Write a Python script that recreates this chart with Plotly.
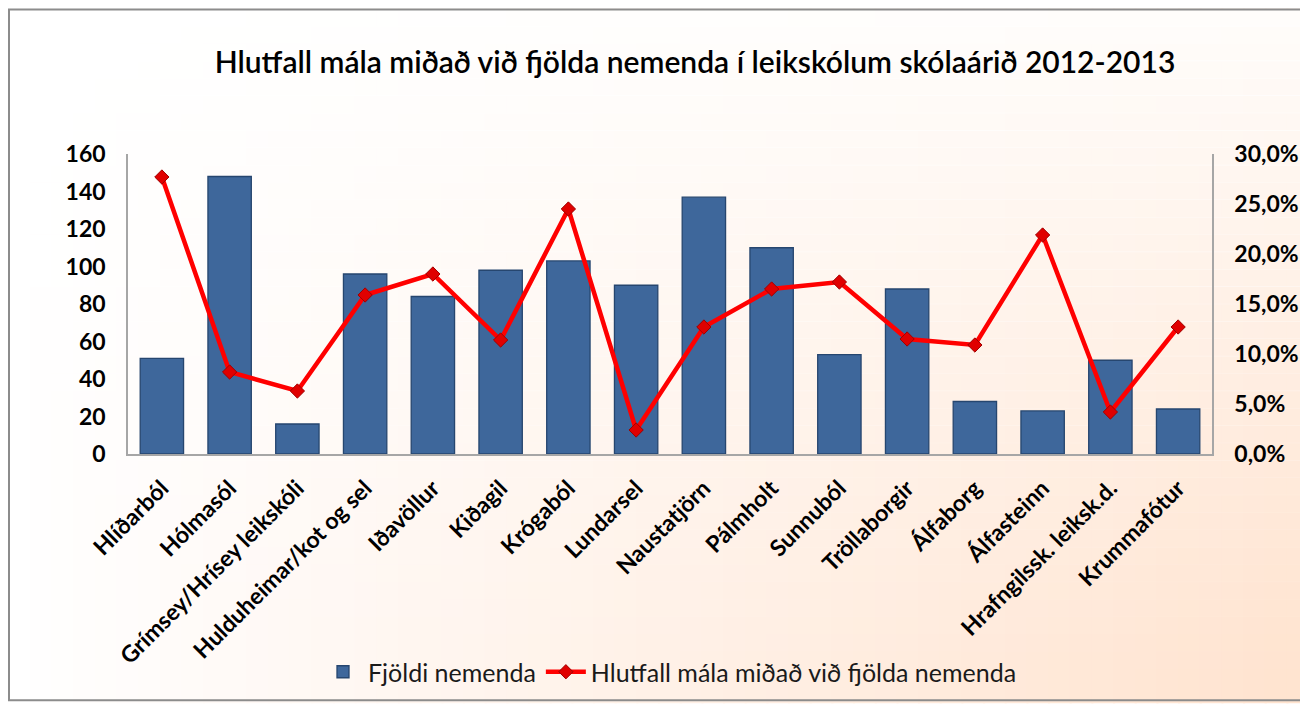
import plotly.graph_objects as go

categories = ["Hlíðarból", "Hólmasól", "Grímsey/Hrísey leikskóli", "Hulduheimar/kot og sel",
              "Iðavöllur", "Kiðagil", "Krógaból", "Lundarsel", "Naustatjörn", "Pálmholt",
              "Sunnuból", "Tröllaborgir", "Álfaborg", "Álfasteinn", "Hrafngilssk. leiksk.d.",
              "Krummafótur"]
nemendur = [51, 148, 16, 96, 84, 98, 103, 90, 137, 110, 53, 88, 28, 23, 50, 24]
hlutfall = [0.277, 0.082, 0.063, 0.159, 0.180, 0.114, 0.245, 0.024, 0.127, 0.165,
            0.172, 0.115, 0.109, 0.219, 0.042, 0.127]
left_ticks = [0, 20, 40, 60, 80, 100, 120, 140, 160]
right_ticks = [0, 0.05, 0.10, 0.15, 0.20, 0.25, 0.30]

title_text = "Hlutfall mála miðað við fjölda nemenda í leikskólum skólaárið 2012-2013"
bar_name = "Fjöldi nemenda"
line_name = "Hlutfall mála miðað við fjölda nemenda"

font_main = "Lato, Open Sans, sans-serif"

# figure geometry (page has an 8px body margin)
W, H = 1300, 697
L, R, T, B = 120, 96, 146, 250
PW = W - L - R
PH = H - T - B

fig = go.Figure()
fig.add_trace(go.Bar(
    x=categories, y=nemendur, name=bar_name,
    marker=dict(color="#3E679B", line=dict(color="#26466F", width=1.3)),
    width=0.64,
))
fig.add_trace(go.Scatter(
    x=categories, y=hlutfall, name=line_name, yaxis="y2",
    mode="lines+markers",
    line=dict(color="#FF0000", width=4.5),
    marker=dict(symbol="diamond", size=11, color="#E00000", line=dict(color="#A00000", width=1)),
))

def px_x(v):
    return (v - L) / PW

def px_y(v):
    return (T + PH - v) / PH

# background gradient (white top-left to peach bottom-right)
shapes = []
n = 60
x_lo, x_hi = px_x(0), px_x(W)
y_lo, y_hi = px_y(H), px_y(0)
for i in range(n):
    t = i / (n - 1)
    g = int(255 - t * (255 - 228))
    b = int(255 - t * (255 - 208))
    shapes.append(dict(type="rect", xref="paper", yref="paper", layer="below",
                       x0=x_lo + i * (x_hi - x_lo) / n, x1=x_lo + (i + 1) * (x_hi - x_lo) / n + 0.002,
                       y0=y_lo, y1=y_hi, line=dict(width=0),
                       fillcolor=f"rgb(255,{g},{b})"))
m = 40
for j in range(m):
    t = j / (m - 1)
    op = 0.9 * (1 - t) ** 1.2
    shapes.append(dict(type="rect", xref="paper", yref="paper", layer="below",
                       x0=x_lo, x1=x_hi,
                       y0=y_hi - (j + 1) * (y_hi - y_lo) / m - 0.002, y1=y_hi - j * (y_hi - y_lo) / m,
                       line=dict(width=0), fillcolor=f"rgba(255,255,255,{op:.3f})"))
# outer frame
shapes.append(dict(type="rect", xref="paper", yref="paper", layer="above",
                   x0=px_x(1), x1=px_x(W + 20),
                   y0=px_y(H - 3), y1=px_y(1),
                   line=dict(color="#8C8C8C", width=2), fillcolor="rgba(0,0,0,0)"))

fig.update_layout(
    width=W, height=H,
    margin=dict(l=L, r=R, t=T, b=B),
    paper_bgcolor="white", plot_bgcolor="rgba(0,0,0,0)",
    separators=",.",
    title=dict(text=title_text, x=687 / W, xanchor="center", y=1 - 54 / H, yanchor="middle",
               font=dict(family=font_main, size=30, color="#000000", weight=600)),
    showlegend=True,
    legend=dict(orientation="h", x=0.5, xanchor="center", y=px_y(664), yanchor="middle",
                font=dict(family=font_main, size=25, color="#1A1A1A"),
                bgcolor="rgba(0,0,0,0)", itemwidth=40, tracegroupgap=0),
    xaxis=dict(tickangle=-45, range=[-0.5, len(categories) - 0.5],
               tickfont=dict(family=font_main, size=23, color="#000000", weight="bold"),
               ticklabelstandoff=10,
               showline=True, linecolor="#A6A6A6", linewidth=1.5, ticks="", showgrid=False,
               automargin=False),
    yaxis=dict(range=[0, 160], tickvals=left_ticks, showgrid=False, zeroline=False,
               showline=True, linecolor="#A6A6A6", linewidth=1.5, ticks="",
               ticklabelstandoff=16, automargin=False,
               tickfont=dict(family=font_main, size=23, color="#000000", weight="bold")),
    yaxis2=dict(range=[0, 0.30], tickvals=right_ticks, tickformat=".1%", overlaying="y",
                side="right", showgrid=False, zeroline=False, showline=True,
                linecolor="#A6A6A6", linewidth=1.5, ticks="", ticklabelstandoff=16,
                automargin=False,
                tickfont=dict(family=font_main, size=23, color="#000000", weight="bold")),
    shapes=shapes,
)

fig.write_html("out.html")
